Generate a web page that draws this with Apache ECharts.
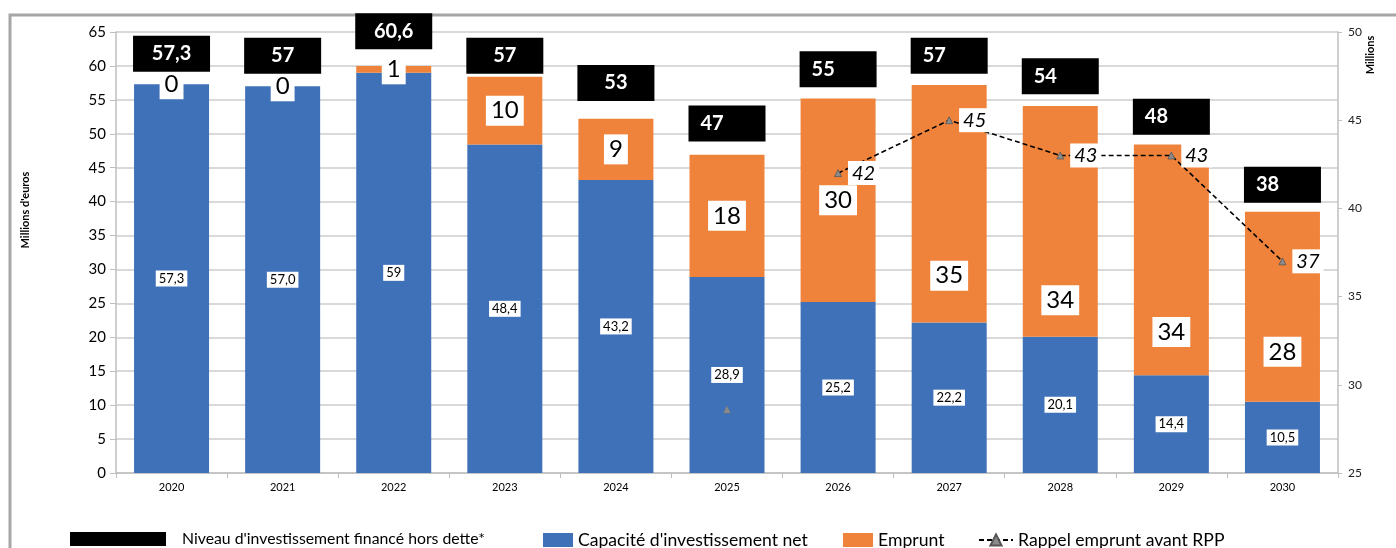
<!DOCTYPE html>
<html>
<head>
<meta charset="utf-8">
<script src="https://cdn.jsdelivr.net/npm/echarts@6/dist/echarts.min.js"></script>
<style>
  html, body { margin: 0; padding: 0; background: #fff; }
  #chart { width: 1396px; height: 548px; }
</style>
</head>
<body>
<div id="chart"></div>
<script>
// Years on the category axis
const years = ['2020', '2021', '2022', '2023', '2024', '2025', '2026', '2027', '2028', '2029', '2030'];

// Capacité d'investissement net (M€), as printed in the bars
const capaciteLabels = ['57,3', '57,0', '59', '48,4', '43,2', '28,9', '25,2', '22,2', '20,1', '14,4', '10,5'];
const capaciteValues = capaciteLabels.map(s => parseFloat(s.replace(',', '.')));

// Emprunt (M€)
const empruntValues = [0, 0, 1, 10, 9, 18, 30, 35, 34, 34, 28];

// Niveau d'investissement financé hors dette* (M€)
const niveauValues = [57.3, 57, 60.6, 57, 53, 47, 55, 57, 54, 48, 38];

// Rappel emprunt avant RPP (millions, right axis)
const rappelValues = [null, null, null, null, null, null, 42, 45, 43, 43, 37];
// lone 2025 marker of the same series, not joined to the line
const rappelIsolated = [['2025', 28.6]];

// Axis ticks
const leftTicks = { min: 0, max: 65, interval: 5 };
const rightTicks = { min: 25, max: 50, interval: 5 };

const FONT = 'Lato, "Open Sans", sans-serif';
const BLUE = '#3f71b8';
const ORANGE = '#f0833b';

// Emprunt labels of the later years sit lower in their segment (pixels down)
const empruntLabelDrop = { 7: 72, 8: 79, 9: 72, 10: 45 };

const fmt = v => String(v).replace('.', ',');

const empruntData = empruntValues.map((v, i) => {
  const drop = empruntLabelDrop[i];
  return drop ? { value: v, label: { offset: [0, drop] } } : v;
});

const chart = echarts.init(document.getElementById('chart'), null, { renderer: 'canvas' });

chart.setOption({
  animation: false,
  textStyle: { fontFamily: FONT },
  grid: { left: 116, right: 58, top: 32, bottom: 75 },
  xAxis: {
    type: 'category',
    data: years,
    axisLine: { lineStyle: { color: '#bfbfbf', width: 1.5 } },
    axisTick: { show: true, alignWithLabel: false, length: 5, lineStyle: { color: '#bfbfbf' } },
    axisLabel: { color: '#000', fontSize: 11, margin: 9, fontFamily: FONT }
  },
  yAxis: [
    {
      type: 'value',
      min: leftTicks.min, max: leftTicks.max, interval: leftTicks.interval,
      axisLine: { show: true, lineStyle: { color: '#bfbfbf', width: 1.5 } },
      axisTick: { show: true, length: 6, lineStyle: { color: '#bfbfbf' } },
      axisLabel: { color: '#000', fontSize: 15, margin: 10, fontFamily: FONT },
      splitLine: { lineStyle: { color: '#d9d9d9', width: 2 } }
    },
    {
      type: 'value',
      min: rightTicks.min, max: rightTicks.max, interval: rightTicks.interval,
      position: 'right',
      axisLine: { show: true, lineStyle: { color: '#bfbfbf', width: 1.5 } },
      axisTick: { show: true, length: 4, lineStyle: { color: '#bfbfbf' } },
      axisLabel: { color: '#222', fontSize: 12, margin: 10, fontFamily: FONT },
      splitLine: { show: false }
    }
  ],
  legend: [
    {
      left: 65, top: 526, itemWidth: 96, itemHeight: 14, selectedMode: false,
      textStyle: { fontSize: 15.8, color: '#000', padding: [0, 0, 0, 11], fontFamily: FONT },
      data: [{ name: "Niveau d'investissement financé hors dette*", icon: 'rect', itemStyle: { color: '#000' } }]
    },
    {
      left: 538, top: 526, itemWidth: 30, itemHeight: 14, selectedMode: false,
      textStyle: { fontSize: 17.6, color: '#000', fontFamily: FONT },
      data: [{ name: "Capacité d'investissement net", icon: 'rect' }]
    },
    {
      left: 838, top: 526, itemWidth: 30, itemHeight: 14, selectedMode: false,
      textStyle: { fontSize: 17.6, color: '#000', fontFamily: FONT },
      data: [{ name: 'Emprunt', icon: 'rect' }]
    },
    {
      left: 973, top: 526, itemWidth: 34, itemHeight: 14, selectedMode: false,
      textStyle: { fontSize: 17.6, color: '#000', fontFamily: FONT },
      data: [{ name: 'Rappel emprunt avant RPP' }]
    }
  ],
  series: [
    {
      name: "Capacité d'investissement net",
      type: 'bar',
      stack: 'total',
      barWidth: 75,
      data: capaciteValues,
      itemStyle: { color: BLUE },
      label: {
        show: true,
        position: 'inside',
        formatter: p => capaciteLabels[p.dataIndex],
        color: '#000',
        fontSize: 13,
        fontFamily: FONT,
        backgroundColor: '#fff',
        padding: [2, 3, 1, 3]
      },
      z: 2
    },
    {
      name: 'Emprunt',
      type: 'bar',
      stack: 'total',
      barWidth: 75,
      data: empruntData,
      itemStyle: { color: ORANGE },
      label: {
        show: true,
        position: 'inside',
        formatter: p => fmt(p.value),
        color: '#000',
        fontSize: 24,
        fontFamily: FONT,
        backgroundColor: '#fff',
        padding: [4, 5, 2, 5]
      },
      z: 2
    },
    {
      name: "Niveau d'investissement financé hors dette*",
      type: 'scatter',
      data: niveauValues,
      symbolSize: 1,
      itemStyle: { color: 'rgba(0,0,0,0)', opacity: 1 },
      label: {
        show: true,
        position: 'top',
        distance: 12,
        formatter: p => (p.dataIndex >= 5 ? '{l|' : '{c|') + fmt(p.value) + '}',
        rich: {
          c: {
            width: 77, height: 36, lineHeight: 36, align: 'center',
            backgroundColor: '#000', color: '#fff', fontSize: 20, fontWeight: 'bold', fontFamily: FONT
          },
          l: {
            width: 65, height: 36, lineHeight: 36, align: 'left', padding: [0, 0, 0, 12],
            backgroundColor: '#000', color: '#fff', fontSize: 20, fontWeight: 'bold', fontFamily: FONT
          }
        }
      },
      z: 5
    },
    {
      name: 'Rappel emprunt avant RPP',
      type: 'line',
      yAxisIndex: 1,
      data: rappelValues,
      connectNulls: false,
      symbol: 'triangle',
      symbolSize: 7,
      itemStyle: { color: '#8c8c8c', borderColor: '#555', borderWidth: 0.8 },
      lineStyle: { color: '#000', width: 1.6, type: [5, 3] },
      label: {
        show: true,
        position: 'right',
        distance: 6,
        formatter: p => fmt(p.value),
        color: '#000',
        fontSize: 20,
        fontStyle: 'italic',
        fontFamily: FONT,
        backgroundColor: '#fff',
        padding: [3, 4, 1, 4]
      },
      z: 6
    },
    {
      name: 'Rappel emprunt avant RPP',
      type: 'scatter',
      yAxisIndex: 1,
      data: rappelIsolated,
      symbol: 'triangle',
      symbolSize: 7,
      itemStyle: { color: '#8c8c8c', borderColor: '#777', borderWidth: 0.5, opacity: 1 },
      z: 6
    }
  ],
  graphic: [
    {
      type: 'rect',
      shape: { x: 10, y: 15, width: 1420, height: 600 },
      style: { fill: 'none', stroke: '#a6a6a6', lineWidth: 3 },
      silent: true,
      z: -1
    },
    {
      type: 'text',
      x: 25, y: 210,
      rotation: Math.PI / 2,
      style: {
        text: "Millions d'euros", fontSize: 11, fontWeight: 'bold', fill: '#000',
        fontFamily: FONT, align: 'center', verticalAlign: 'middle'
      }
    },
    {
      type: 'text',
      x: 1370, y: 55,
      rotation: Math.PI / 2,
      style: {
        text: 'Millions', fontSize: 11, fontWeight: 'bold', fill: '#000',
        fontFamily: FONT, align: 'center', verticalAlign: 'middle'
      }
    }
  ]
});
</script>
</body>
</html>
